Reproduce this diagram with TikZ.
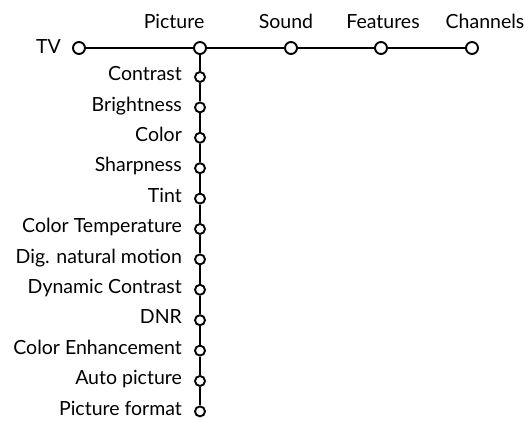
\documentclass[tikz,border=0pt]{standalone}
\usepackage{fontspec}
\setmainfont{Lato}
\usetikzlibrary{positioning}
\tikzset{
  hub/.style={circle, draw=black, fill=white, line width=1.9pt,
    minimum size=12pt, inner sep=0pt},
  leaf/.style={hub, minimum size=10pt},
  menu/.style={font=\fontsize{19.5}{22}\selectfont, inner sep=0pt,
    text height=13.5pt, text depth=0pt},
  item/.style={menu, yshift=3pt},
  link/.style={line width=1.9pt, draw=black},
}

\begin{document}
\begin{tikzpicture}[x=1pt,y=-1pt]
    \useasboundingbox (0,0) rectangle (528,422);

    % top menu bar
    \node[hub] (tv) at (79,48) {};
    \node[hub] (pic) at (200,48) {};
    \node[hub] (snd) at (291,48) {};
    \node[hub] (feat) at (381,48) {};
    \node[hub] (chan) at (472,48) {};

    \node[menu, left=11pt of tv, yshift=1.5pt] (ltv) {TV};
    \node[menu, above=12pt of pic, xshift=-26pt] (lpic) {Picture};
    \node[menu, above=12pt of snd, xshift=-5pt] (lsnd) {Sound};
    \node[menu, above=12pt of feat, xshift=2pt] (lfeat) {Features};
    \node[menu, above=12pt of chan, xshift=13pt] (lchan) {Channels};

    % picture submenu
    \node[leaf] (contrast) at (200,77) {};
    \node[leaf, below=18.5pt of contrast] (bright) {};
    \node[leaf, below=18.5pt of bright] (color) {};
    \node[leaf, below=18.5pt of color] (sharp) {};
    \node[leaf, below=18.5pt of sharp] (tint) {};
    \node[leaf, below=18.5pt of tint] (ctemp) {};
    \node[leaf, below=18.5pt of ctemp] (dnm) {};
    \node[leaf, below=18.5pt of dnm] (dyncon) {};
    \node[leaf, below=18.5pt of dyncon] (dnr) {};
    \node[leaf, below=18.5pt of dnr] (cenh) {};
    \node[leaf, below=18.5pt of cenh] (autopic) {};
    \node[leaf, below=18.5pt of autopic] (picfmt) {};

    \node[item, left=12pt of contrast] (lcontrast) {Contrast};
    \node[item, left=12pt of bright] (lbright) {Brightness};
    \node[item, left=12pt of color] (lcolor) {Color};
    \node[item, left=12pt of sharp] (lsharp) {Sharpness};
    \node[item, left=12pt of tint] (ltint) {Tint};
    \node[item, left=12pt of ctemp] (lctemp) {Color Temperature};
    \node[item, left=12pt of dnm] (ldnm) {Dig. natural motion};
    \node[item, left=12pt of dyncon] (ldyncon) {Dynamic Contrast};
    \node[item, left=12pt of dnr] (ldnr) {DNR};
    \node[item, left=12pt of cenh] (lcenh) {Color Enhancement};
    \node[item, left=12pt of autopic] (lautopic) {Auto picture};
    \node[item, left=12pt of picfmt] (lpicfmt) {Picture format};

    \draw[link] (tv) -- (pic) -- (snd) -- (feat) -- (chan);
    \draw[link] (pic) -- (contrast) -- (bright) -- (color) -- (sharp)
      -- (tint) -- (ctemp) -- (dnm) -- (dyncon) -- (dnr) -- (cenh)
      -- (autopic) -- (picfmt);
\end{tikzpicture}
\end{document}
